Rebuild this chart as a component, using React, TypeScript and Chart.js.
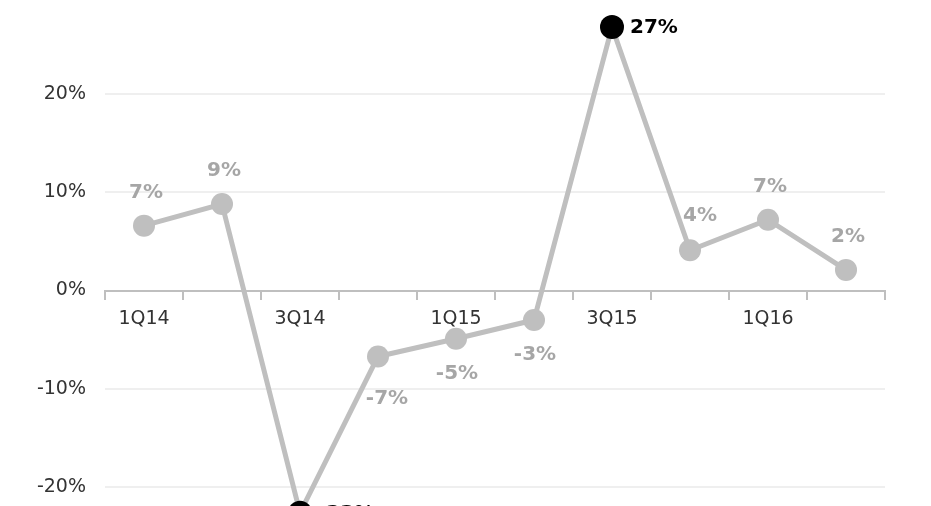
import React, { useEffect, useRef } from "react";
import { Chart, registerables } from "chart.js";

Chart.register(...registerables);

const categories = ["1Q14", "2Q14", "3Q14", "4Q14", "1Q15", "2Q15", "3Q15", "4Q15", "1Q16", "2Q16"];
const growth = [6.6, 8.8, -22.6, -6.7, -4.9, -3.0, 26.8, 4.1, 7.2, 2.1];
const highlighted = [false, false, true, false, false, false, true, false, false, false];
const labelPlacement = ["top", "top", "right", "bottomRight", "bottom", "bottom", "right", "topRight", "top", "top"];
const yMin = -30;
const yMax = 30;
const yStep = 10;

const FONT = "'Century Gothic', 'DejaVu Sans', sans-serif";
const OFFSET_TOP = 40;
const CANVAS_W = 931;
const CANVAS_H = 656;

const dataLabels = {
  id: "dataLabels",
  afterDatasetsDraw(chart: any) {
    const ctx = chart.ctx;
    const meta = chart.getDatasetMeta(0);
    ctx.save();
    meta.data.forEach((pt: any, i: number) => {
      const text = Math.round(growth[i]) + "%";
      ctx.font = `bold 20px ${FONT}`;
      ctx.fillStyle = highlighted[i] ? "#000000" : "#a6a6a6";
      ctx.textBaseline = "middle";
      const p = labelPlacement[i];
      ctx.textAlign = p === "right" ? "left" : "center";
      if (p === "right") {
        ctx.fillText(text, pt.x + 18, pt.y + 1);
      } else if (p === "top") {
        ctx.fillText(text, pt.x + 2, pt.y - 33);
      } else if (p === "topRight") {
        ctx.fillText(text, pt.x + 10, pt.y - 34);
      } else if (p === "bottomRight") {
        ctx.fillText(text, pt.x + 9, pt.y + 42);
      } else {
        ctx.fillText(text, pt.x + 1, pt.y + 35);
      }
    });
    ctx.restore();
  },
};

export default function App() {
  const ref = useRef<HTMLCanvasElement | null>(null);

  useEffect(() => {
    if (!ref.current) return;
    const chart = new Chart(ref.current, {
      type: "line",
      data: {
        labels: categories,
        datasets: [
          {
            data: growth,
            borderColor: "#bfbfbf",
            borderWidth: 5,
            tension: 0,
            pointRadius: highlighted.map((h) => (h ? 12 : 11)),
            pointHoverRadius: highlighted.map((h) => (h ? 12 : 11)),
            pointBackgroundColor: highlighted.map((h) => (h ? "#000000" : "#bfbfbf")),
            pointBorderColor: highlighted.map((h) => (h ? "#000000" : "#bfbfbf")),
            pointBorderWidth: 0,
            clip: false as any,
          },
        ],
      },
      plugins: [dataLabels],
      options: {
        animation: false,
        responsive: false,
        devicePixelRatio: 1,
        layout: { padding: { top: OFFSET_TOP - 4.5, bottom: 20, left: 0, right: 46 } },
        plugins: { legend: { display: false }, tooltip: { enabled: false } },
        scales: {
          x: {
            type: "category",
            position: { y: 0 } as any,
            offset: true,
            grid: {
              offset: true,
              drawOnChartArea: false,
              drawTicks: true,
              tickLength: 8,
              color: "#bfbfbf",
              lineWidth: 2,
            },
            border: { display: true, color: "#bfbfbf", width: 2 },
            ticks: {
              autoSkip: false,
              maxRotation: 0,
              padding: 9,
              color: "#333333",
              font: { family: FONT, size: 19 },
              callback: (_v: any, idx: number) => (idx % 2 === 0 ? categories[idx] : ""),
            },
          },
          y: {
            min: yMin,
            max: yMax,
            ticks: {
              stepSize: yStep,
              padding: 19,
              color: "#333333",
              font: { family: FONT, size: 19 },
              callback: (v: any) => v + "%",
            },
            grid: { color: "#efefef", lineWidth: 2, drawTicks: false },
            border: { display: false },
            afterFit: (s: any) => {
              s.width = 105;
            },
          },
        },
      },
    });
    return () => chart.destroy();
  }, []);

  return (
    <div
      style={{
        position: "fixed",
        left: 0,
        top: 0,
        width: CANVAS_W,
        height: 506,
        overflow: "hidden",
        background: "#ffffff",
      }}
    >
      <div style={{ position: "absolute", left: 0, top: -OFFSET_TOP, width: CANVAS_W, height: CANVAS_H }}>
        <canvas ref={ref} width={CANVAS_W} height={CANVAS_H} style={{ width: CANVAS_W, height: CANVAS_H }} />
      </div>
    </div>
  );
}
